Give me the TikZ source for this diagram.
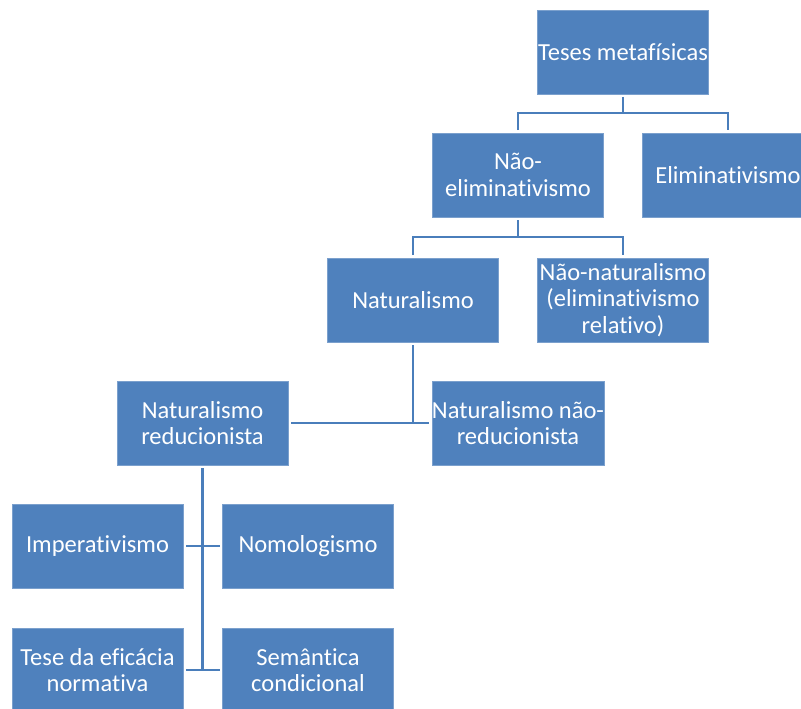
\documentclass[tikz,border=0pt]{standalone}
\usepackage{fontspec}
\setmainfont{Carlito}[Ligatures=NoCommon]
\usepackage{xcolor}
\definecolor{boxblue}{HTML}{4F81BD}
\definecolor{lineblue}{HTML}{4A7EBB}

\begin{document}
\begin{tikzpicture}[x=1pt, y=-1pt,
  every node/.style={font=\fontsize{24.5}{26.5}\selectfont},
  blk/.style={draw=boxblue!75!white, line width=0.6pt, fill=boxblue, text=white,
    minimum width=171pt, minimum height=84pt, inner sep=0pt,
    align=center, outer sep=3pt},
  link/.style={draw=lineblue, line width=2.8pt}]
  \clip (0,0) rectangle (801,709);

  \node[blk] (teses) at (623,52) {Teses metafísicas};
  \node[blk] (naoelim) at (518,175) {Não-\\eliminativismo};
  \node[blk] (elim) at (728,175) {Eliminativismo};
  \coordinate (b1) at (623,113);
  \draw[link] (teses.south) -- (b1);
  \draw[link] (naoelim.north) |- (b1) -| (elim.north);

  \node[blk] (nat) at (413,300) {Naturalismo};
  \node[blk] (naonat) at (623,300) {Não-naturalismo\\(eliminativismo\\relativo)};
  \coordinate (b2) at (518,237);
  \draw[link] (naoelim.south) -- (b2);
  \draw[link] (nat.north) |- (b2) -| (naonat.north);

  \node[blk] (natred) at (202.5,423) {Naturalismo\\reducionista};
  \node[blk, minimum width=170pt] (natnred) at (518,423) {Naturalismo não-\\reducionista};
  \draw[link] (natred.east) -- (natnred.west);
  \draw[link] (nat.south) -- (nat.south |- natred.east);

  \node[blk] (imp) at (97.5,546) {Imperativismo};
  \node[blk] (nomo) at (308,546) {Nomologismo};
  \node[blk] (tese) at (97.5,670) {Tese da eficácia\\normativa};
  \node[blk] (sem) at (308,670) {Semântica\\condicional};
  \draw[link] (natred.south) -- (natred.south |- sem.west);
  \draw[link] (imp.east) -- (nomo.west);
  \draw[link] (tese.east) -- (sem.west);
\end{tikzpicture}
\end{document}
